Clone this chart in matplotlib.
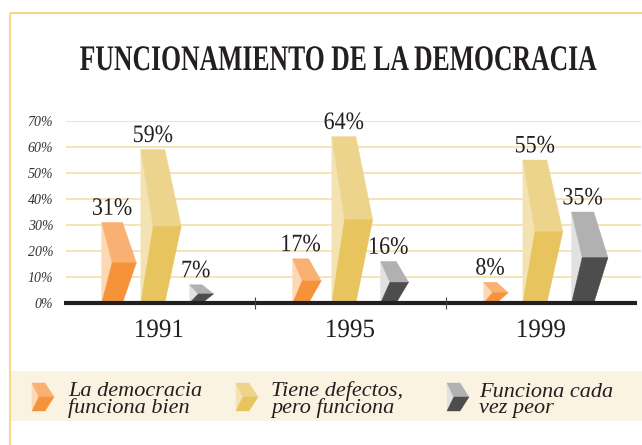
import matplotlib
matplotlib.use("Agg")
import matplotlib.pyplot as plt
from matplotlib.patches import Polygon, Rectangle
from matplotlib.patheffects import AbstractPathEffect
from matplotlib.transforms import Affine2D

# ---------------------------------------------------------------- data
years = ["1991", "1995", "1999"]
series_names = [
    "La democracia\nfunciona bien",
    "Tiene defectos,\npero funciona",
    "Funciona cada\nvez peor",
]
funciona_bien = [31, 17, 8]
tiene_defectos = [59, 64, 55]
cada_vez_peor = [7, 16, 35]
ytick_values = [0, 10, 20, 30, 40, 50, 60, 70]
ytick_labels = [f"{v}%" for v in ytick_values]
title = "FUNCIONAMIENTO DE LA DEMOCRACIA"

series = [funciona_bien, tiene_defectos, cada_vez_peor]

# ---------------------------------------------------------------- style
# (pale left face, upper face, lower face) for each series
palettes = [
    ("#fdd8b4", "#f9b173", "#f6933a"),
    ("#f3e3b2", "#edd48c", "#e7c45e"),
    ("#e1e1e1", "#b1b1b1", "#4d4d4d"),
]
offsets = [0.20, 0.405, 0.66]       # left edge of each chevron inside a group
PX_PER_UNIT = 191.0                  # pixels per group on the x axis
TEXT = "#231f20"
GRID = "#f2dda0"
BORDER = "#f5d47d"
BAND = "#faf3e2"
SERIF = "Liberation Serif"

W, H = 642, 445


class Scale(AbstractPathEffect):
    """Draw text glyphs rescaled around their horizontal centre and baseline."""

    def __init__(self, sx=1.0, sy=1.0):
        super().__init__()
        self.sx = sx
        self.sy = sy

    def draw_path(self, renderer, gc, tpath, affine, rgbFace=None):
        xs = tpath.vertices[:, 0]
        cx = 0.5 * (xs.min() + xs.max()) if len(xs) else 0.0
        t = (Affine2D().translate(-cx, 0).scale(self.sx, self.sy)
             .translate(cx, 0) + affine)
        renderer.draw_path(gc, tpath, t, rgbFace)


def chevron(ax, x0, y0, h, w, d, colors, zorder=3):
    """Shaded arrow-like column: pale left face, upper and lower faces."""
    pale_c, up_c, low_c = colors
    mid = y0 + h / 2.0
    top = y0 + h
    a = 0.75 * d
    faces = [
        ([(x0, y0), (x0 + a, mid), (x0, top)], pale_c),
        ([(x0, top), (x0 + w, top), (x0 + w + d, mid), (x0 + a, mid)], up_c),
        ([(x0 + a, mid), (x0 + w + d, mid), (x0 + w, y0), (x0, y0)], low_c),
    ]
    for pts, c in faces:
        ax.add_patch(Polygon(pts, closed=True, facecolor=c, edgecolor=c,
                             linewidth=0.3, zorder=zorder))


fig = plt.figure(figsize=(W / 100, H / 100), dpi=100)
fig.patch.set_facecolor("white")

# background layer in pixel coordinates: frame, title, legend band
bg = fig.add_axes([0, 0, 1, 1], zorder=0)
bg.set_xlim(0, W)
bg.set_ylim(H, 0)
bg.axis("off")

bg.plot([9.5, W], [13, 13], color=BORDER, lw=1.3, solid_capstyle="butt")
bg.plot([10, 10], [13, H], color=BORDER, lw=1.3, solid_capstyle="butt")
bg.add_patch(Rectangle((10.6, 371), W - 10.6, 50, facecolor=BAND, edgecolor="none"))

bg.text(339, 70, title, ha="center", va="baseline", fontsize=18.5,
        fontweight="bold", family=SERIF, color=TEXT,
        path_effects=[Scale(1.0, 1.4)])

# legend keys (multi-line text is anchored on the baseline of its last line)
legend_icon_x = [32, 236, 447]
legend_text_x = [68, 271, 479]
for k in range(3):
    chevron(bg, legend_icon_x[k], 411, -28, 13, 9, palettes[k])
    bg.text(legend_text_x[k], 413, series_names[k], ha="left", va="baseline",
            fontsize=16, style="italic", family=SERIF, color=TEXT,
            linespacing=0.8)

# ---------------------------------------------------------------- chart
left_px, right_px = 63.5, 640.5
bottom_px, top_px = 303, 121
ax = fig.add_axes([left_px / W, (H - bottom_px) / H,
                   (right_px - left_px) / W, (bottom_px - top_px) / H],
                  zorder=2)
ax.set_facecolor("none")
ax.set_xlim(0, (right_px - left_px) / PX_PER_UNIT)
ax.set_ylim(0, 70)
for sp in ax.spines.values():
    sp.set_visible(False)
ax.set_xticks([])
ax.set_yticks(ytick_values)
ax.set_yticklabels(ytick_labels, fontsize=10, style="italic", family=SERIF,
                   color="#333333")
ax.tick_params(axis="y", length=0, pad=7.5)

ax.hlines(ytick_values[1:], 0.015, ax.get_xlim()[1], color=GRID, lw=1.1,
          zorder=0)

for i, year in enumerate(years):
    for s, vals in enumerate(series):
        v = vals[i]
        w = (10 + 14 * min(1.0, v / 40.0)) / PX_PER_UNIT
        d = (11 + v / 11.0) / PX_PER_UNIT
        x0 = i + offsets[s]
        chevron(ax, x0, 0, v, w, d, palettes[s])
        ax.annotate(f"{v}%", (x0 + w / 2, v), xytext=(0, 5.5),
                    textcoords="offset points", ha="center", va="baseline",
                    fontsize=18, family=SERIF, color=TEXT,
                    path_effects=[Scale(0.88)])
    ax.annotate(year, (i + 0.5, 0), xytext=(0, -24.5),
                textcoords="offset points", ha="center", va="baseline",
                fontsize=19, family=SERIF, color=TEXT,
                path_effects=[Scale(0.95)])

# base line and group separators
ax.hlines(0, 0, 3.0, color=TEXT, lw=3.0, zorder=6, clip_on=False)
ax.vlines([1, 2], -2.2, 2.2, color="#444444", lw=0.8, zorder=7, clip_on=False)

fig.savefig("out.png", dpi=100)
